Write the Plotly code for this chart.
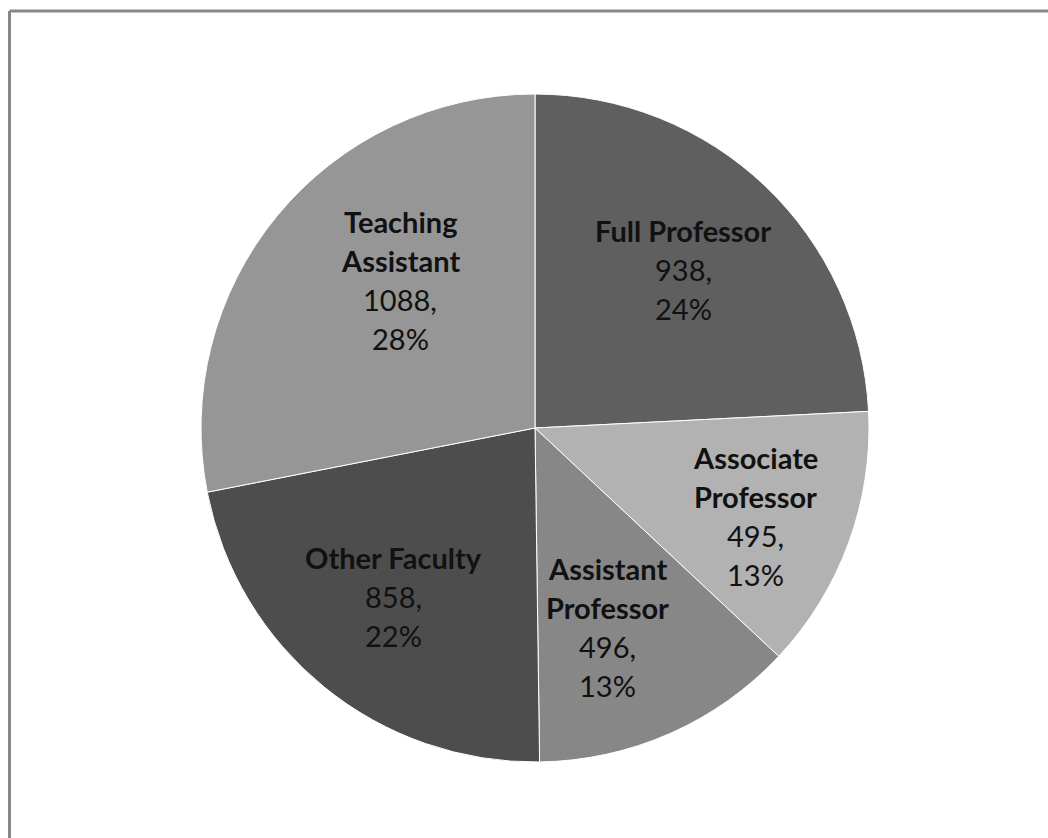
import math
import plotly.graph_objects as go

# Faculty headcount by rank
categories = ["Full Professor", "Associate Professor", "Assistant Professor",
              "Other Faculty", "Teaching Assistant"]
label_lines = [["Full Professor"], ["Associate", "Professor"], ["Assistant", "Professor"],
               ["Other Faculty"], ["Teaching", "Assistant"]]
values = [938, 495, 496, 858, 1088]
colors = ["#5f5f5f", "#b2b2b2", "#878787", "#4d4d4d", "#969696"]

W, H = 1048, 838
CX, CY, R = 535, 428, 334          # pie centre and radius in pixels
label_radius = [0.65, 0.71, 0.635, 0.66, 0.60]
label_turn = [-0.5, 1.6, 3.7, 0.9, 8.3]   # small angular nudges (degrees) for label placement
LINE_H = 39
FONT = "Lato, 'Open Sans', sans-serif"

fig = go.Figure(go.Pie(
    labels=categories,
    values=values,
    sort=False,
    direction="clockwise",
    rotation=0,
    marker=dict(colors=colors, line=dict(color="white", width=1)),
    textinfo="none",
    hoverinfo="label+value+percent",
    showlegend=False,
    domain=dict(x=[(CX - R) / W, (CX + R) / W],
                y=[(H - CY - R) / H, (H - CY + R) / H]),
))

total = sum(values)
annotations = []
cum = 0
for name_lines, v, frac, turn in zip(label_lines, values, label_radius, label_turn):
    mid = (cum + v / 2) / total * 2 * math.pi + math.radians(turn)
    cum += v
    px = CX + frac * R * math.sin(mid)
    py = CY - frac * R * math.cos(mid)
    lines = [f"<b>{s}</b>" for s in name_lines] + [f"{v},", f"{round(100 * v / total)}%"]
    n = len(lines)
    for i, t in enumerate(lines):
        ly = py + (i - (n - 1) / 2) * LINE_H
        annotations.append(dict(
            x=px / W, y=1 - ly / H, xref="paper", yref="paper",
            text=t, showarrow=False, xanchor="center", yanchor="middle",
            font=dict(family=FONT, size=29, color="#111111"),
        ))

fig.update_layout(
    width=W, height=H,
    margin=dict(l=0, r=0, t=0, b=0),
    paper_bgcolor="white",
    plot_bgcolor="white",
    annotations=annotations,
    shapes=[
        dict(type="line", xref="paper", yref="paper", x0=9.5 / W, x1=1.02, y0=1 - 11 / H, y1=1 - 11 / H,
             line=dict(color="#878787", width=3)),
        dict(type="line", xref="paper", yref="paper", x0=9.5 / W, x1=9.5 / W, y0=1 - 11 / H, y1=-0.02,
             line=dict(color="#878787", width=3)),
    ],
)

fig.write_html("out.html")
